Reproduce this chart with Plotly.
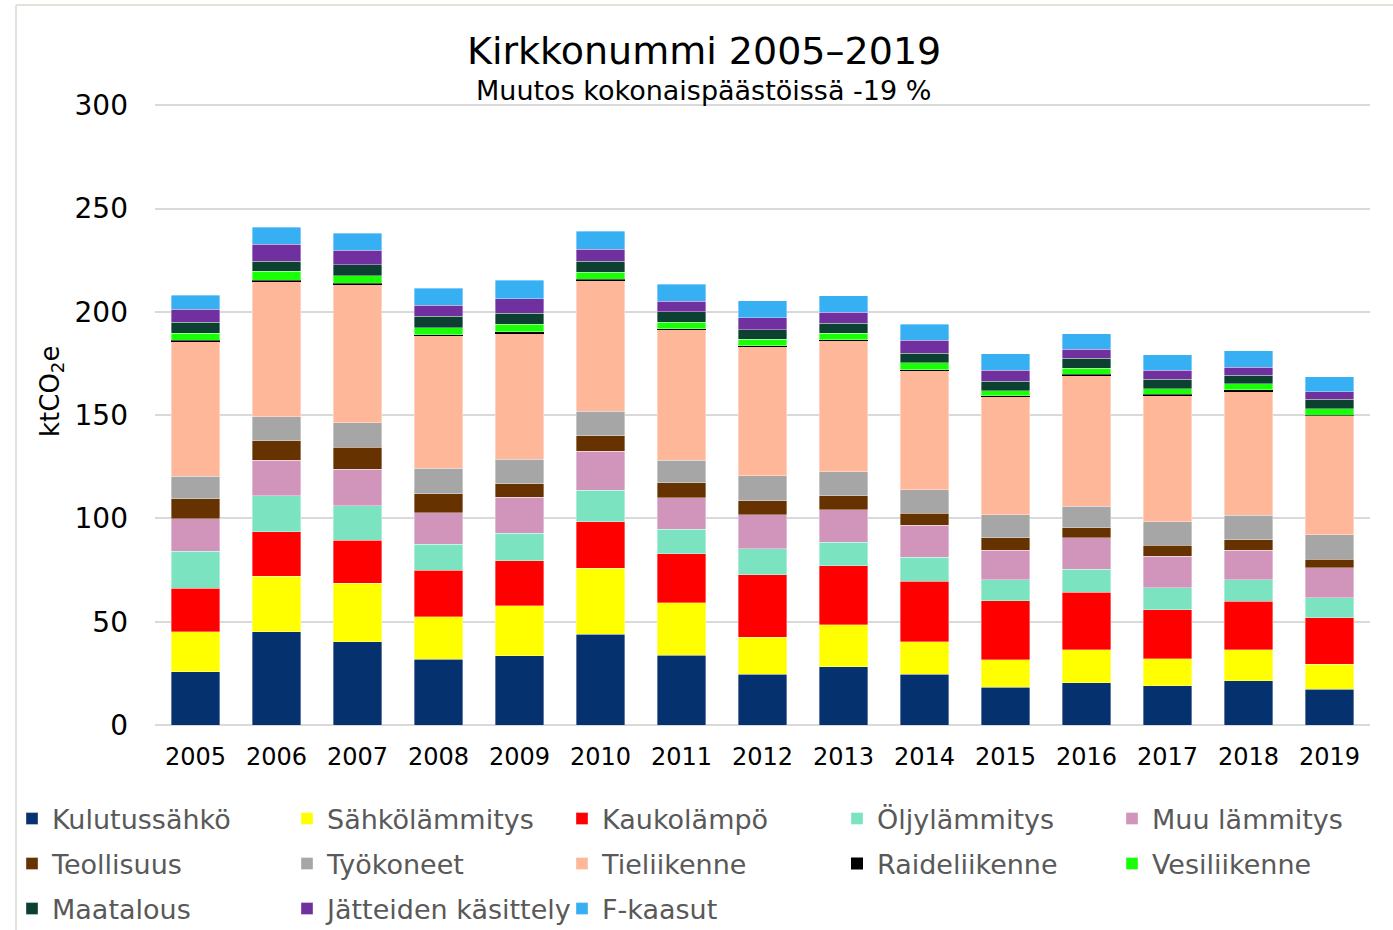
import plotly.graph_objects as go

years = ["2005", "2006", "2007", "2008", "2009", "2010", "2011", "2012",
         "2013", "2014", "2015", "2016", "2017", "2018", "2019"]

kulutussahko = [25.7, 45.1, 40.2, 31.8, 33.5, 43.9, 33.7, 24.5, 28.2, 24.5, 18.2, 20.5, 18.9, 21.4, 17.2]
sahkolammitys = [19.4, 27.0, 28.3, 20.5, 24.2, 31.9, 25.5, 17.9, 20.3, 15.8, 13.5, 15.9, 13.2, 15.0, 12.1]
kaukolampo = [21.0, 21.5, 21.0, 22.5, 21.7, 22.7, 23.7, 30.3, 28.6, 29.3, 28.4, 27.9, 23.8, 23.4, 22.6]
oljylammitys = [17.9, 17.4, 16.7, 12.6, 13.5, 15.2, 11.8, 12.6, 11.4, 11.6, 10.1, 11.1, 10.6, 10.4, 9.8]
muu_lammitys = [15.9, 17.2, 17.7, 15.3, 17.3, 18.9, 15.3, 16.5, 15.7, 15.6, 14.4, 15.3, 15.2, 14.5, 14.5]
teollisuus = [9.5, 9.5, 10.5, 9.2, 6.7, 7.4, 7.3, 6.7, 6.8, 5.8, 6.1, 4.7, 5.3, 5.0, 4.0]
tyokoneet = [11.1, 11.6, 11.9, 12.5, 11.8, 11.9, 10.8, 12.1, 11.6, 11.2, 11.1, 10.6, 11.3, 11.8, 11.8]
tieliikenne = [65.2, 65.5, 66.7, 64.0, 61.0, 63.3, 63.2, 62.6, 63.4, 57.8, 57.1, 63.3, 61.4, 60.1, 57.8]
raideliikenne = [0.5, 0.6, 0.8, 0.6, 0.6, 0.6, 0.5, 0.5, 0.6, 0.3, 0.4, 0.5, 0.5, 0.6, 0.2]
vesiliikenne = [3.5, 4.2, 3.7, 3.4, 3.7, 3.3, 3.2, 3.1, 3.1, 3.4, 2.6, 2.8, 2.5, 2.9, 3.2]
maatalous = [5.3, 5.0, 5.2, 5.5, 5.4, 5.4, 5.0, 4.5, 4.7, 4.7, 4.5, 5.0, 4.7, 4.1, 4.5]
jatteiden_kasittely = [6.3, 8.2, 7.1, 5.2, 6.9, 5.9, 5.2, 5.8, 5.3, 6.3, 5.4, 4.3, 4.4, 4.0, 3.7]
f_kaasut = [6.7, 8.1, 8.2, 8.4, 8.9, 8.5, 8.2, 8.2, 8.2, 7.8, 7.8, 7.6, 7.4, 7.9, 7.1]

series = [
    ("Kulutussähkö", kulutussahko, "#06316F"),
    ("Sähkölämmitys", sahkolammitys, "#FFFF00"),
    ("Kaukolämpö", kaukolampo, "#FF0000"),
    ("Öljylämmitys", oljylammitys, "#7CE3C0"),
    ("Muu lämmitys", muu_lammitys, "#D194BA"),
    ("Teollisuus", teollisuus, "#663300"),
    ("Työkoneet", tyokoneet, "#A6A6A6"),
    ("Tieliikenne", tieliikenne, "#FFB799"),
    ("Raideliikenne", raideliikenne, "#000000"),
    ("Vesiliikenne", vesiliikenne, "#19FF06"),
    ("Maatalous", maatalous, "#0C4030"),
    ("Jätteiden käsittely", jatteiden_kasittely, "#7030A0"),
    ("F-kaasut", f_kaasut, "#36B0F2"),
]

FONT = "DejaVu Sans"
W, H = 1393, 930
ML, MR, MT, MB = 155, 23, 104, 205
PW, PH = W - ML - MR, H - MT - MB


def px_x(x):
    return (x - ML) / PW


def px_y(y):
    return (H - MB - y) / PH


fig = go.Figure()
legend_layouts = {}
col_x = [30, 305, 580, 855, 1130]
row_y = [819, 864, 909]
for i, (name, vals, color) in enumerate(series):
    lid = "legend" if i == 0 else f"legend{i + 1}"
    fig.add_trace(go.Bar(
        x=years, y=vals, name=name,
        marker=dict(color=color,
                    line=dict(width=0 if name == "Raideliikenne" else 0.6,
                              color="rgba(255,255,255,0.6)")),
        legend=lid,
    ))
    r, c = divmod(i, 5)
    legend_layouts[lid] = dict(
        xref="container", yref="container",
        x=(col_x[c] - 18) / W, y=1 - row_y[r] / H, xanchor="left", yanchor="middle",
        orientation="h", bgcolor="rgba(0,0,0,0)", borderwidth=0, itemwidth=30,
        font=dict(family=FONT, size=27, color="#595959"),
    )

fig.update_layout(
    width=W, height=H,
    margin=dict(l=ML, r=MR, t=MT, b=MB, autoexpand=False),
    barmode="stack", bargap=0.4,
    plot_bgcolor="white", paper_bgcolor="white",
    font=dict(family=FONT, color="black"),
    showlegend=True,
    **legend_layouts,
    xaxis=dict(type="category", showgrid=False, showline=False, automargin=False,
               tickfont=dict(family=FONT, size=24, color="black"),
               ticks="", ticklabelstandoff=15),
    yaxis=dict(range=[0, 300.6], tickvals=[0, 50, 100, 150, 200, 250, 300],
               showgrid=True, gridcolor="#D9D9D9", gridwidth=2, automargin=False,
               zeroline=True, zerolinecolor="#D9D9D9", zerolinewidth=2,
               tickfont=dict(family=FONT, size=28, color="black"),
               ticks="", ticklabelstandoff=26, showline=False),
    annotations=[
        dict(text="Kirkkonummi 2005–2019", x=px_x(703.5), y=px_y(51), xref="paper", yref="paper",
             xanchor="center", yanchor="middle", showarrow=False,
             font=dict(family=FONT, size=38, color="black")),
        dict(text="Muutos kokonaispäästöissä -19 %", x=px_x(703.5), y=px_y(91), xref="paper", yref="paper",
             xanchor="center", yanchor="middle", showarrow=False,
             font=dict(family=FONT, size=27, color="black")),
        dict(text="ktCO<sub>2</sub>e", x=px_x(52), y=px_y(392), xref="paper", yref="paper",
             xanchor="center", yanchor="middle", showarrow=False, textangle=-90,
             font=dict(family=FONT, size=26, color="black")),
    ],
    shapes=[
        dict(type="line", xref="paper", yref="paper", x0=px_x(16), x1=px_x(16),
             y0=px_y(5), y1=px_y(935), line=dict(color="#E3E3D8", width=2)),
        dict(type="line", xref="paper", yref="paper", x0=px_x(16), x1=px_x(1400),
             y0=px_y(5), y1=px_y(5), line=dict(color="#E3E3D8", width=2)),
    ],
)

fig.write_html("out.html", config={"displayModeBar": False},
               post_script="document.body.style.margin='0';")
